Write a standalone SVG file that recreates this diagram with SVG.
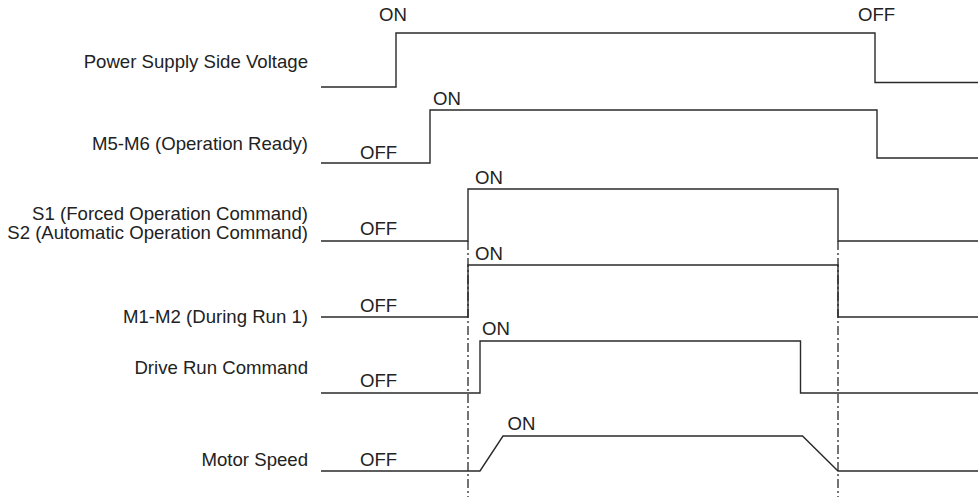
<svg xmlns="http://www.w3.org/2000/svg" width="978" height="497" viewBox="0 0 978 497">
<style>
.lbl{font-family:"Liberation Sans",Arial,sans-serif;font-size:18.6px;fill:#222222;text-anchor:end}
.st{font-family:"Liberation Sans",Arial,sans-serif;font-size:18.6px;fill:#222222}
.w{fill:none;stroke:#2a2a2a;stroke-width:1.4;stroke-linejoin:miter}
.dd{fill:none;stroke:#2a2a2a;stroke-width:1.3;stroke-dasharray:9 3 2 3}
</style>
<rect width="978" height="497" fill="#ffffff"/>
<g id="guides">
<line class="dd" x1="468" y1="241" x2="468" y2="497"/>
<line class="dd" x1="838" y1="241" x2="838" y2="497"/>
</g>
<g id="power-supply">
<text class="lbl" x="308" y="67.5">Power Supply Side Voltage</text>
<polyline class="w" points="321,87 396,87 396,33 875,33 875,82.5 978,82.5"/>
<text class="st" x="379" y="20.5">ON</text>
<text class="st" x="858" y="20.5">OFF</text>
</g>
<g id="m5-m6">
<text class="lbl" x="308" y="149.5">M5-M6 (Operation Ready)</text>
<polyline class="w" points="321,163 430,163 430,110 877,110 877,158 978,158"/>
<text class="st" x="360" y="158.5">OFF</text>
<text class="st" x="433" y="105">ON</text>
</g>
<g id="s1-s2">
<text class="lbl" x="308" y="220">S1 (Forced Operation Command)</text>
<text class="lbl" x="308" y="239">S2 (Automatic Operation Command)</text>
<polyline class="w" points="321,241 468,241 468,189 838,189 838,241 978,241"/>
<text class="st" x="360" y="235">OFF</text>
<text class="st" x="475" y="184">ON</text>
</g>
<g id="m1-m2">
<text class="lbl" x="308" y="322.5">M1-M2 (During Run 1)</text>
<polyline class="w" points="321,317 468,317 468,265 838,265 838,317 978,317"/>
<text class="st" x="360" y="311.5">OFF</text>
<text class="st" x="475" y="259.5">ON</text>
</g>
<g id="drive-run">
<text class="lbl" x="308" y="373.5">Drive Run Command</text>
<polyline class="w" points="321,393 480,393 480,341 800.5,341 800.5,393 978,393"/>
<text class="st" x="360" y="387">OFF</text>
<text class="st" x="482" y="335">ON</text>
</g>
<g id="motor-speed">
<text class="lbl" x="308" y="465.5">Motor Speed</text>
<polyline class="w" points="321,471 480,471 503,436 802.5,436 838,471 978,471"/>
<text class="st" x="360" y="466">OFF</text>
<text class="st" x="507.5" y="429.5">ON</text>
</g>
</svg>
